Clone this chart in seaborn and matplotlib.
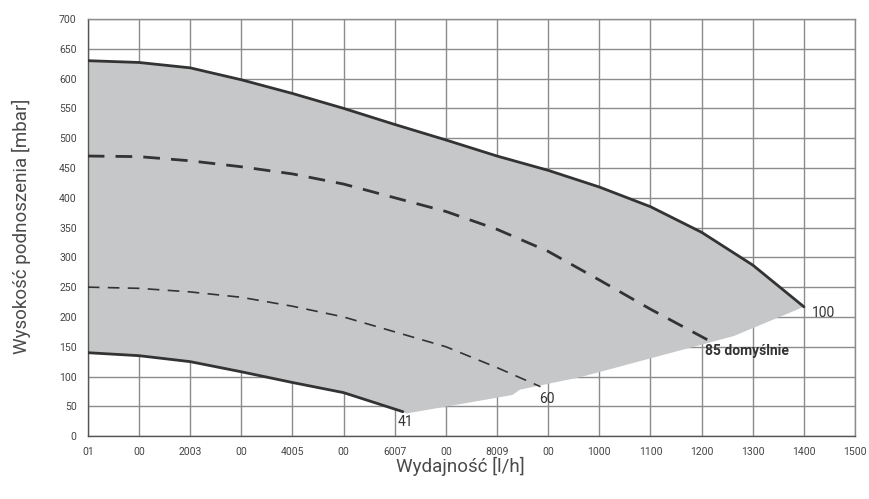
import matplotlib
matplotlib.use("Agg")
import matplotlib.pyplot as plt
import seaborn as sns

# pump curves: flow [l/h] vs head [mbar]
flow_100 = [0, 100, 200, 300, 400, 500, 600, 700, 800, 900, 1000, 1100, 1200, 1300, 1400]
head_100 = [630, 627, 618, 598, 575, 550, 523, 497, 470, 446, 418, 385, 342, 287, 217]

flow_85 = [0, 100, 200, 300, 400, 500, 600, 700, 800, 900, 1000, 1100, 1215]
head_85 = [470, 469, 462, 452, 440, 423, 400, 377, 347, 310, 262, 213, 160]

flow_60 = [0, 100, 200, 300, 400, 500, 600, 700, 800, 885]
head_60 = [250, 248, 242, 233, 218, 200, 175, 150, 115, 83]

flow_41 = [0, 100, 200, 300, 400, 500, 616]
head_41 = [140, 135, 125, 108, 90, 73, 41]

# lower edge of the grey working area (right part)
edge_flow = [1400, 1263, 963, 845, 830, 623]
edge_head = [217, 168, 99, 78, 69, 38]

x_ticks = [0, 100, 200, 300, 400, 500, 600, 700, 800, 900, 1000, 1100, 1200, 1300, 1400, 1500]
x_labels = ["01", "00", "2003", "00", "4005", "00", "6007", "00", "8009", "00",
            "1000", "1100", "1200", "1300", "1400", "1500"]
y_ticks = list(range(0, 701, 50))

sns.set_style("white")
plt.rcParams['font.family'] = ['Roboto', 'DejaVu Sans']

fig = plt.figure(figsize=(8.69, 4.99), dpi=100)
ax = fig.add_axes([0.101, 0.126, 0.883, 0.836])

# grey area
poly_x = [0] + flow_100 + edge_flow + flow_41[::-1]
poly_y = [140] + head_100 + edge_head + head_41[::-1]
ax.fill(poly_x, poly_y, color="#c6c7c9", lw=0, zorder=1)

dark = "#333333"
sns.lineplot(x=flow_100, y=head_100, ax=ax, color=dark, lw=2, zorder=3)
sns.lineplot(x=flow_41, y=head_41, ax=ax, color=dark, lw=2, zorder=3)
sns.lineplot(x=flow_85, y=head_85, ax=ax, color=dark, lw=2, zorder=3)
ax.lines[-1].set_dashes([6, 4])
sns.lineplot(x=flow_60, y=head_60, ax=ax, color=dark, lw=1.2, zorder=3)
ax.lines[-1].set_dashes([7, 5])

ax.text(1416, 207, "100", fontsize=10, color=dark, va="center")
ax.text(1206, 143, "85 domyślnie", fontsize=10, color=dark, va="center", fontweight="bold")
ax.text(882, 63, "60", fontsize=10, color=dark, va="center")
ax.text(605, 24, "41", fontsize=10, color=dark, va="center")

ax.set_xlim(0, 1500)
ax.set_ylim(0, 700)
ax.set_xticks(x_ticks)
ax.set_xticklabels(x_labels)
ax.set_yticks(y_ticks)
ax.tick_params(labelsize=7.5, colors="#444444", length=0, pad=8)
ax.grid(True, color="#8c8c8c", lw=1)
for sp in ax.spines.values():
    sp.set_color("#8c8c8c")
    sp.set_linewidth(1)
ax.spines["left"].set_color("#555555")
ax.spines["bottom"].set_color("#555555")
for gl in ax.get_xgridlines() + ax.get_ygridlines():
    gl.set_zorder(2)

fig.text(0.025, 0.547, "Wysokość podnoszenia [mbar]", rotation=90, fontsize=13.5,
         color="#4a4a4a", ha="center", va="center")
fig.text(0.53, 0.066, "Wydajność [l/h]", fontsize=13.5, color="#4a4a4a",
         ha="center", va="center")

fig.savefig("out.png", dpi=100)
